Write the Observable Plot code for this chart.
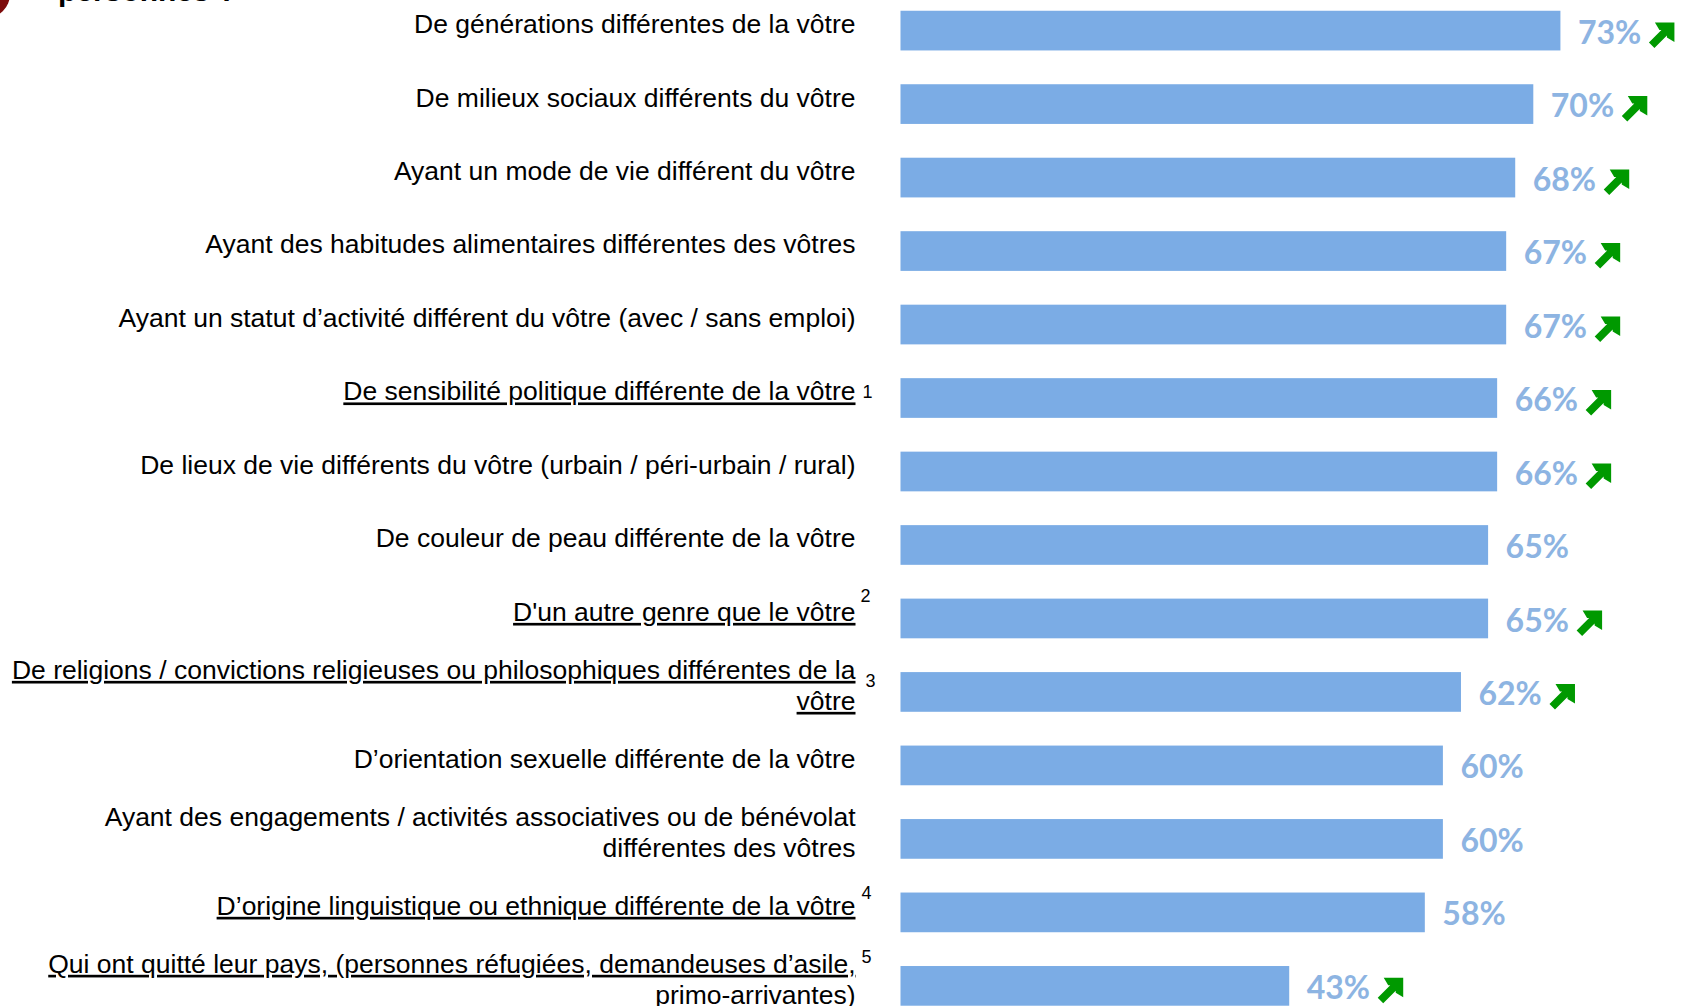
<!DOCTYPE html>
<html lang="fr">
<head>
<meta charset="utf-8">
<script src="https://cdn.jsdelivr.net/npm/d3@7"></script>
<script src="https://cdn.jsdelivr.net/npm/@observablehq/plot@0.6"></script>
<style>
  html, body { margin: 0; padding: 0; background: #ffffff; overflow: hidden; }
  #wrap { position: relative; width: 1683px; height: 1006px; overflow: hidden; }
  #chart svg { display: block; }
  #title { position: absolute; left: 58px; top: -24px; font: 700 30px "Liberation Sans", Arial, sans-serif; color: #000; line-height: 30px; white-space: nowrap; }
  #badge { position: absolute; left: -38px; top: -30px; width: 48px; height: 48px; border-radius: 50%; background: #7d0b0b; }
</style>
</head>
<body>
<div id="wrap">
  <div id="chart"></div>
  <div id="badge"></div>
  <div id="title">personnes ?</div>
</div>
<script>
const categories = [
  "De générations différentes de la vôtre",
  "De milieux sociaux différents du vôtre",
  "Ayant un mode de vie différent du vôtre",
  "Ayant des habitudes alimentaires différentes des vôtres",
  "Ayant un statut d’activité différent du vôtre (avec / sans emploi)",
  "De sensibilité politique différente de la vôtre",
  "De lieux de vie différents du vôtre (urbain / péri-urbain / rural)",
  "De couleur de peau différente de la vôtre",
  "D'un autre genre que le vôtre",
  "De religions / convictions religieuses ou philosophiques différentes de la\nvôtre",
  "D’orientation sexuelle différente de la vôtre",
  "Ayant des engagements / activités associatives ou de bénévolat\ndifférentes des vôtres",
  "D’origine linguistique ou ethnique différente de la vôtre",
  "Qui ont quitté leur pays, (personnes réfugiées, demandeuses d’asile,\nprimo-arrivantes)"
];
const values = [73, 70, 68, 67, 67, 66, 66, 65, 65, 62, 60, 60, 58, 43];
const trendUp = [true, true, true, true, true, true, true, false, true, true, false, false, false, true];
const underlinedLines = [
  "De sensibilité politique différente de la vôtre",
  "D'un autre genre que le vôtre",
  "De religions / convictions religieuses ou philosophiques différentes de la",
  "vôtre",
  "D’origine linguistique ou ethnique différente de la vôtre",
  "Qui ont quitté leur pays, (personnes réfugiées, demandeuses d’asile,"
];
const noteCategories = [categories[5], categories[8], categories[9], categories[12], categories[13]];
const noteMarks = ["1", "2", "3", "4", "5"];

const rows = categories.map((c, i) => ({category: c, value: values[i], up: trendUp[i]}));
const notes = noteCategories.map((c, i) => ({category: c, mark: noteMarks[i]}));

// style offsets for footnote markers (dx, dy in px)
const noteOffsets = {"1": [-38.5, -6], "2": [-40.5, -23], "3": [-35.5, -11], "4": [-39.5, -20], "5": [-39.5, -29.5]};

// block arrow ↗ symbol
const arrowSymbol = {
  draw(ctx) {
    const pts = [[-7,-12.5],[12.5,-12.5],[12.5,7],[5,2.5],[5,0.5],[-7.5,13],[-13,7.5],[-0.5,-5],[-2.5,-5]];
    ctx.moveTo(pts[0][0], pts[0][1]);
    for (let k = 1; k < pts.length; k++) ctx.lineTo(pts[k][0], pts[k][1]);
    ctx.closePath();
  }
};

const labelFont = "Liberation Sans, Arial, sans-serif";

const svg = Plot.plot({
  width: 1683,
  height: 1006,
  style: {background: "#ffffff"},
  x: {domain: [0, 100], range: [900.5, 1804.5], axis: null},
  y: {domain: categories, range: [-23.03, 1039.5], padding: 0.4597, round: false, axis: null},
  marks: [
    Plot.barX(rows, {x: "value", y: "category", fill: "#7BACE5"}),
    Plot.text(rows, {
      x: "value", y: "category", text: d => d.value + "%",
      textAnchor: "start", dx: 17, dy: 2.3,
      fill: "#8DB4E2", fontSize: 32, fontWeight: 700, fontFamily: "Lato, Open Sans, sans-serif"
    }),
    Plot.dot(rows.filter(d => d.up), {
      x: "value", y: "category", symbol: arrowSymbol, r: 5,
      fill: "#009900", stroke: "none", dx: 101, dy: 4
    }),
    Plot.text(rows, {
      x: () => 0, y: "category", text: "category",
      textAnchor: "end", dx: -45.5, dy: -8, lineHeight: 1.17,
      fill: "#000000", fontSize: 26.5, fontFamily: labelFont
    }),
    ...noteMarks.map(m => Plot.text(notes.filter(n => n.mark === m), {
      x: () => 0, y: "category", text: "mark",
      textAnchor: "start", dx: noteOffsets[m][0], dy: noteOffsets[m][1],
      fill: "#000000", fontSize: 18, fontFamily: labelFont
    }))
  ]
});

document.getElementById("chart").appendChild(svg);

// underline selected label lines
d3.select(svg).selectAll("text").each(function() {
  const spans = d3.select(this).selectAll("tspan");
  if (spans.empty()) {
    if (underlinedLines.includes(this.textContent)) d3.select(this).style("text-decoration", "underline");
  } else {
    spans.each(function() {
      if (underlinedLines.includes(this.textContent)) d3.select(this).style("text-decoration", "underline");
    });
  }
});
</script>
</body>
</html>
